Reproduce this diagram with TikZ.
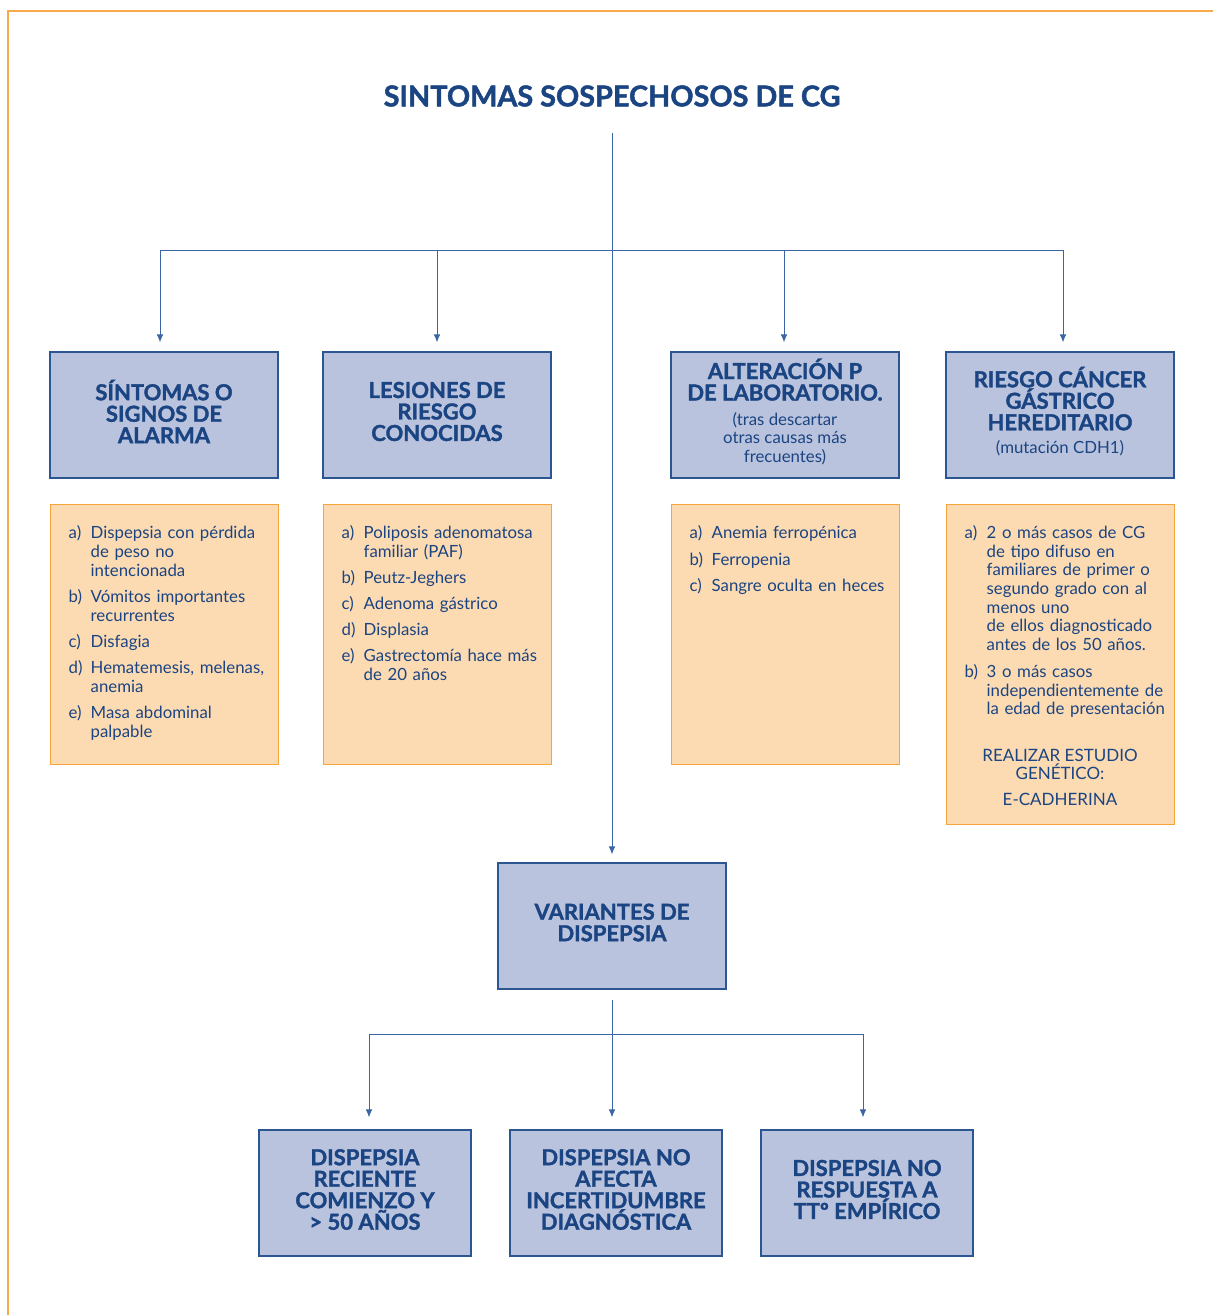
\documentclass[tikz,border=0pt]{standalone}
\usepackage{fontspec}
\setmainfont{Lato}[BoldFeatures={FakeBold=1.5}]
\usetikzlibrary{arrows.meta}

\definecolor{navy}{HTML}{1A4482}
\definecolor{boxedge}{HTML}{2B568F}
\definecolor{linkblue}{HTML}{3B66A3}
\definecolor{bluefill}{HTML}{BAC3DD}
\definecolor{orangefill}{HTML}{FDDBB2}
\definecolor{orangeedge}{HTML}{F6A43C}
\definecolor{frameorange}{HTML}{F6AA4C}

% list entry with hanging label
\newcommand{\lstitem}[2]{\hangindent=22pt\hangafter=1\noindent\makebox[22pt][l]{#1}#2\par}
% extra space under heading text, lifting it slightly in its box
\newcommand{\headtail}{\par\vspace{7pt}}

\begin{document}
\begin{tikzpicture}[x=1pt,y=-1pt,
  headbox/.style={draw=boxedge, line width=1.1pt, fill=bluefill, inner sep=0pt,
    minimum width=228pt, minimum height=126pt, text=navy, text width=220pt, align=flush center,
    font=\bfseries\fontsize{22}{21.5}\selectfont, execute at end node=\headtail},
  listbox/.style={draw=orangeedge, line width=1pt, fill=orangefill, inner sep=0pt,
    minimum width=228pt},
  listtext/.style={anchor=north west, inner sep=0pt, text=navy, text width=230pt,
    font=\fontsize{16.8}{19}\selectfont},
  link/.style={draw=linkblue, line width=0.9pt},
  arr/.style={link, -{Latex[length=8pt,width=6.5pt]}}
]
\useasboundingbox (0,0) rectangle (1213,1315);

% page frame (top and left edges)
\draw[frameorange, line width=1.6pt] (8,1315) -- (8,11) -- (1213,11);

% title
\node[text=navy, font=\bfseries\fontsize{28.8}{30}\selectfont] (title) at (612,96) {SINTOMAS SOSPECHOSOS DE CG};

% upper heading boxes
\node[headbox] (h1) at (164,415) {SÍNTOMAS O\\SIGNOS DE\\ALARMA};
\node[headbox] (h2) at (437,415) {LESIONES DE\\RIESGO\\CONOCIDAS};
\node[headbox] (h3) at (785,415) {ALTERACIÓN P\\DE LABORATORIO.\par\vspace{6pt}{\mdseries\fontsize{16.8}{18.5}\selectfont (tras descartar\\otras causas más\\frecuentes)\par}};
\node[headbox] (h4) at (1060,415) {RIESGO CÁNCER\\GÁSTRICO\\HEREDITARIO\par\vspace{5pt}{\mdseries\fontsize{16.8}{18.5}\selectfont (mutación CDH1)\par}};

% detail boxes
\node[listbox, minimum height=260pt] (o1) at (164,634) {};
\node[listbox, minimum height=260pt] (o2) at (437,634) {};
\node[listbox, minimum height=260pt] (o3) at (785,634) {};
\node[listbox, minimum height=320pt] (o4) at (1060,664) {};

\node[listtext] (t1) at ([xshift=19pt,yshift=-22pt]o1.north west) {\raggedright\setlength{\parskip}{7pt}%
  \lstitem{a)}{Dispepsia con pérdida\newline de peso no\newline intencionada}
  \lstitem{b)}{Vómitos importantes\newline recurrentes}
  \lstitem{c)}{Disfagia}
  \lstitem{d)}{Hematemesis, melenas,\newline anemia}
  \lstitem{e)}{Masa abdominal\newline palpable}};

\node[listtext] (t2) at ([xshift=19pt,yshift=-22pt]o2.north west) {\raggedright\setlength{\parskip}{7pt}%
  \lstitem{a)}{Poliposis adenomatosa\newline familiar (PAF)}
  \lstitem{b)}{Peutz-Jeghers}
  \lstitem{c)}{Adenoma gástrico}
  \lstitem{d)}{Displasia}
  \lstitem{e)}{Gastrectomía hace más\newline de 20 años}};

\node[listtext] (t3) at ([xshift=19pt,yshift=-22pt]o3.north west) {\raggedright\setlength{\parskip}{7.5pt}%
  \lstitem{a)}{Anemia ferropénica}
  \lstitem{b)}{Ferropenia}
  \lstitem{c)}{Sangre oculta en heces}};

\node[listtext] (t4) at ([xshift=19pt,yshift=-22pt]o4.north west) {\raggedright\setlength{\parskip}{8.5pt}\setlength{\baselineskip}{18.6pt}%
  \lstitem{a)}{2 o más casos de CG\newline de tipo difuso en\newline familiares de primer o\newline segundo grado con al\newline menos uno\newline de ellos diagnosticado\newline antes de los 50 años.}
  \lstitem{b)}{3 o más casos\newline independientemente de\newline la edad de presentación}};

\node[text=navy, align=center, font=\fontsize{17}{18}\selectfont] (gen) at (1060,764) {REALIZAR ESTUDIO\\GENÉTICO:};
\node[text=navy, font=\fontsize{17}{18}\selectfont] (cad) at (1060,799) {E-CADHERINA};

% central box
\node[headbox] (var) at (612,926) {VARIANTES DE\\DISPEPSIA};

% lower boxes
\node[headbox, minimum width=212pt, text width=205pt] (d1) at (365,1193) {DISPEPSIA\\RECIENTE\\COMIENZO Y\\> 50 AÑOS};
\node[headbox, minimum width=212pt, text width=205pt] (d2) at (616,1193) {DISPEPSIA NO\\AFECTA\\INCERTIDUMBRE\\DIAGNÓSTICA};
\node[headbox, minimum width=212pt, text width=205pt] (d3) at (867,1193) {DISPEPSIA NO\\RESPUESTA A\\TTº EMPÍRICO};

% upper connectors
\coordinate (top) at (612,133);
\coordinate (b1) at (160,250);
\coordinate (b2) at (437,250);
\coordinate (b3) at (784,250);
\coordinate (b4) at (1063,250);
\draw[link] (b1) -- (b4);
\draw[arr] (top) -- ([yshift=8pt]var.north);
\draw[arr] (b1) -- ([yshift=9pt]h1.north -| b1);
\draw[arr] (b2) -- ([yshift=9pt]h2.north -| b2);
\draw[arr] (b3) -- ([yshift=9pt]h3.north -| b3);
\draw[arr] (b4) -- ([yshift=9pt]h4.north -| b4);

% lower connectors
\coordinate (vs) at ([yshift=-10pt]var.south);
\coordinate (c1) at (369,1034);
\coordinate (c2) at (612,1034);
\coordinate (c3) at (863,1034);
\draw[link] (c1) -- (c3);
\draw[arr] (vs) -- ([yshift=12pt]d2.north -| c2);
\draw[arr] (c1) -- ([yshift=12pt]d1.north -| c1);
\draw[arr] (c3) -- ([yshift=12pt]d3.north -| c3);
\end{tikzpicture}
\end{document}
